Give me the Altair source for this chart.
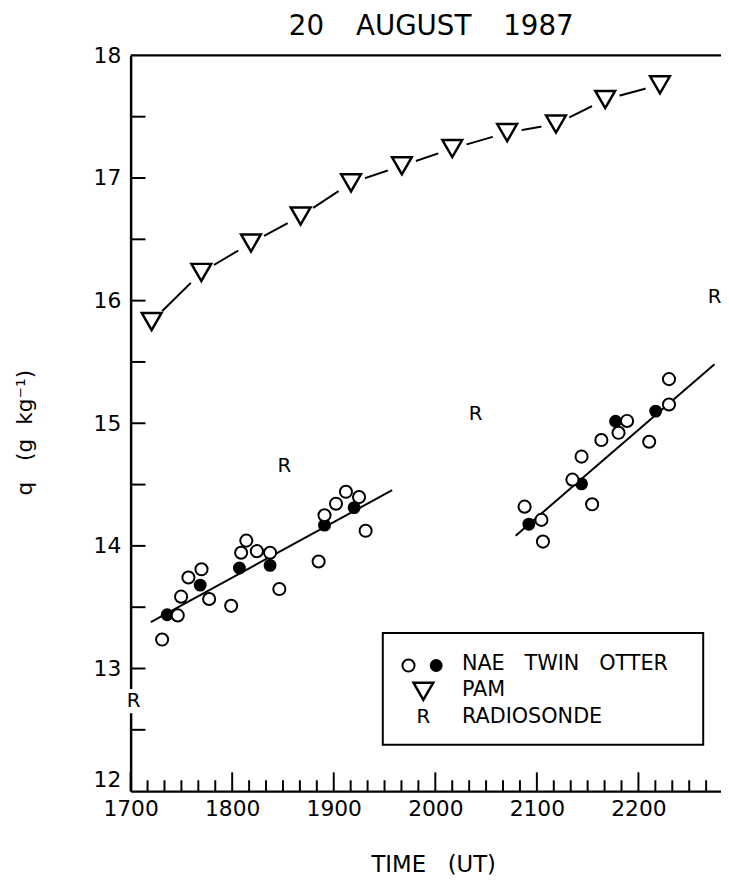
import altair as alt
import pandas as pd

NB = "\u00a0"  # non-breaking space keeps the wide gaps in SVG text

# ---------------- text ----------------
title_text = "20" + NB * 3 + "\u2009AUGUST" + NB * 3 + "\u20091987"
x_title = "TIME" + NB * 3 + "(UT)"
y_title = "q" + NB * 3 + "(g" + NB * 2 + "kg\u207b\u00b9)"
legend_labels = ["NAE" + NB * 3 + "TWIN" + NB * 3 + "OTTER", "PAM", "RADIOSONDE"]

# ---------------- axes (time in decimal hours, labelled HHMM) ----------------
x_label_hours = [17, 18, 19, 20, 21, 22]
y_label_values = [12, 13, 14, 15, 16, 17, 18]
y_tick_values = [12.5, 13, 13.5, 14, 14.5, 15, 15.5, 16, 16.5, 17, 17.5]
x_minor_ticks = [17 + k / 6 for k in range(1, 35) if k % 6 != 0]
X_DOM = [17, 22.813]
Y_DOM = [12, 18]

# ---------------- PAM ----------------
pam_t = [17.207, 17.696, 18.185, 18.674, 19.170, 19.671, 20.167, 20.707, 21.188, 21.673, 22.212]
pam_q = [15.83, 16.23, 16.47, 16.69, 16.96, 17.10, 17.24, 17.37, 17.44, 17.64, 17.76]

# ---------------- NAE Twin Otter ----------------
open_t = [17.310, 17.464, 17.497, 17.569, 17.698, 17.773, 17.990, 18.088, 18.139, 18.243,
          18.373, 18.464, 18.851, 18.909, 19.022, 19.120, 19.249, 19.314,
          20.879, 21.045, 21.060, 21.350, 21.440, 21.544, 21.635, 21.804, 21.888, 22.106,
          22.301, 22.301]
open_q = [13.236, 13.433, 13.586, 13.742, 13.809, 13.567, 13.511, 13.944, 14.043, 13.957,
          13.944, 13.648, 13.873, 14.250, 14.344, 14.441, 14.398, 14.123,
          14.320, 14.212, 14.035, 14.540, 14.728, 14.339, 14.863, 14.922, 15.019, 14.849,
          15.153, 15.360]
filled_t = [17.360, 17.685, 18.071, 18.373, 18.909, 19.201, 20.921, 21.440, 21.775, 22.170]
filled_q = [13.438, 13.680, 13.820, 13.841, 14.169, 14.312, 14.177, 14.506, 15.016, 15.099]

# fitted lines (end points)
fit_seg = ["a", "a", "b", "b"]
fit_t = [17.199, 19.575, 20.791, 22.749]
fit_q = [13.379, 14.454, 14.083, 15.481]

# ---------------- Radiosonde ----------------
sonde_t = [17.03, 18.513, 20.396, 22.749]
sonde_q = [12.734, 14.653, 15.078, 16.032]

# ---------------- tables ----------------
pam_df = pd.DataFrame({"t": pam_t, "q": pam_q})
open_df = pd.DataFrame({"t": open_t, "q": open_q})
filled_df = pd.DataFrame({"t": filled_t, "q": filled_q})
fit_df = pd.DataFrame({"seg": fit_seg, "t": fit_t, "q": fit_q})
sonde_df = pd.DataFrame({"t": sonde_t, "q": sonde_q, "lab": ["R"] * len(sonde_t)})
top_df = pd.DataFrame({"t": X_DOM, "q": [Y_DOM[1], Y_DOM[1]]})
xmaj_df = pd.DataFrame({"t": x_label_hours, "q": [Y_DOM[0]] * len(x_label_hours)})
xmin_df = pd.DataFrame({"t": x_minor_ticks, "q": [Y_DOM[0]] * len(x_minor_ticks)})
ytick_df = pd.DataFrame({"q": y_tick_values, "t": [X_DOM[0]] * len(y_tick_values)})
one = pd.DataFrame({"a": [0]})

FONT = "DejaVu Sans"
W, H = 597, 744

xs = alt.Scale(domain=X_DOM, nice=False, zero=False)
ys = alt.Scale(domain=Y_DOM, nice=False, zero=False)

x_axis = alt.Axis(values=x_label_hours, labelExpr="format(datum.value * 100, 'd')",
                  ticks=False, grid=False, domainColor="black", domainWidth=2.5,
                  labelFont=FONT, labelFontSize=22, labelColor="black", labelPadding=8,
                  labelFlush=False, labelOverlap=False,
                  title=x_title, titleFont=FONT, titleFontSize=23, titleFontWeight="normal",
                  titleColor="black", titleX=306, titleY=74, titleBaseline="middle",
                  titleAlign="center")
y_axis = alt.Axis(values=y_label_values, format="d", ticks=False, grid=False,
                  domainColor="black", domainWidth=2.5,
                  labelFont=FONT, labelFontSize=22, labelColor="black", labelPadding=10,
                  labelFlush=False, labelOverlap=False,
                  labelBaseline={"condition": {"test": "datum.value == 12", "value": "bottom"},
                                 "value": "middle"},
                  title=y_title, titleFont=FONT, titleFontSize=22, titleFontWeight="normal",
                  titleColor="black", titleAngle=270, titleX=-107, titleY=381,
                  titleBaseline="middle", titleAlign="center")


def X():
    return alt.X("t:Q", scale=xs, axis=x_axis)


def Y():
    return alt.Y("q:Q", scale=ys, axis=y_axis)


layers = []

# frame top line
layers.append(alt.Chart(top_df).mark_line(color="black", strokeWidth=2.5).encode(x=X(), y=Y()))
# inward ticks
layers.append(alt.Chart(xmaj_df).mark_rule(color="black", strokeWidth=2, y2Offset=-19)
              .encode(x=X(), y=Y(), y2=alt.Y2("q")))
layers.append(alt.Chart(xmin_df).mark_rule(color="black", strokeWidth=2, y2Offset=-11)
              .encode(x=X(), y=Y(), y2=alt.Y2("q")))
layers.append(alt.Chart(ytick_df).mark_rule(color="black", strokeWidth=2, x2Offset=15)
              .encode(x=X(), y=Y(), x2=alt.X2("t")))

# PAM: line, knock-out, triangles
layers.append(alt.Chart(pam_df).mark_line(color="black", strokeWidth=2).encode(x=X(), y=Y()))
layers.append(alt.Chart(pam_df).mark_point(shape="circle", filled=True, color="white",
                                           size=900, opacity=1).encode(x=X(), y=Y()))
layers.append(alt.Chart(pam_df).mark_point(shape="triangle-down", filled=True, fill="white",
                                           stroke="black", strokeWidth=2.5, size=400,
                                           opacity=1).encode(x=X(), y=Y()))

# fit lines
layers.append(alt.Chart(fit_df).mark_line(color="black", strokeWidth=2)
              .encode(x=X(), y=Y(), detail="seg:N"))
# Twin Otter points
layers.append(alt.Chart(filled_df).mark_point(shape="circle", filled=True, color="black",
                                              size=170, opacity=1).encode(x=X(), y=Y()))
layers.append(alt.Chart(open_df).mark_point(shape="circle", filled=True, fill="white",
                                            stroke="black", strokeWidth=2, size=150,
                                            opacity=1).encode(x=X(), y=Y()))

# radiosonde R with white backing
layers.append(alt.Chart(sonde_df).mark_point(shape="M-0.5,-1H0.5V1H-0.5Z", filled=True,
                                             color="white", size=600, opacity=1)
              .encode(x=X(), y=Y()))
layers.append(alt.Chart(sonde_df).mark_text(font=FONT, fontSize=20, color="black",
                                            baseline="middle", align="center")
              .encode(x=X(), y=Y(), text="lab:N"))

# title
layers.append(alt.Chart(one).mark_text(font=FONT, fontSize=28, color="black",
                                       baseline="middle", align="center")
              .encode(x=alt.value(304), y=alt.value(-29), text=alt.value(title_text)))

# legend (drawn by hand)
layers.append(alt.Chart(one).mark_rect(fill="white", stroke="black", strokeWidth=2)
              .encode(x=alt.value(255), x2=alt.value(579), y=alt.value(584), y2=alt.value(697)))
layers.append(alt.Chart(one).mark_point(shape="circle", filled=True, fill="white",
                                        stroke="black", strokeWidth=2, size=150, opacity=1)
              .encode(x=alt.value(281), y=alt.value(617)))
layers.append(alt.Chart(one).mark_point(shape="circle", filled=True, color="black",
                                        size=170, opacity=1)
              .encode(x=alt.value(309), y=alt.value(617)))
layers.append(alt.Chart(one).mark_point(shape="triangle-down", filled=True, fill="white",
                                        stroke="black", strokeWidth=2.5, size=400, opacity=1)
              .encode(x=alt.value(296), y=alt.value(643)))
layers.append(alt.Chart(one).mark_text(font=FONT, fontSize=20, color="black",
                                       baseline="middle", align="center")
              .encode(x=alt.value(296), y=alt.value(669), text=alt.value("R")))
for lab, yy in zip(legend_labels, [616, 642, 669]):
    layers.append(alt.Chart(one).mark_text(font=FONT, fontSize=21, color="black",
                                           baseline="middle", align="left")
                  .encode(x=alt.value(335), y=alt.value(yy), text=alt.value(lab)))

chart = alt.layer(*layers).properties(
    width=W, height=H,
    padding={"left": 124, "top": 43, "right": 0, "bottom": 90},
    autosize=alt.AutoSizeParams(type="none"),
    background="white",
).configure_view(stroke=None)

chart.save("out.html", embed_options={"renderer": "svg", "actions": False})
